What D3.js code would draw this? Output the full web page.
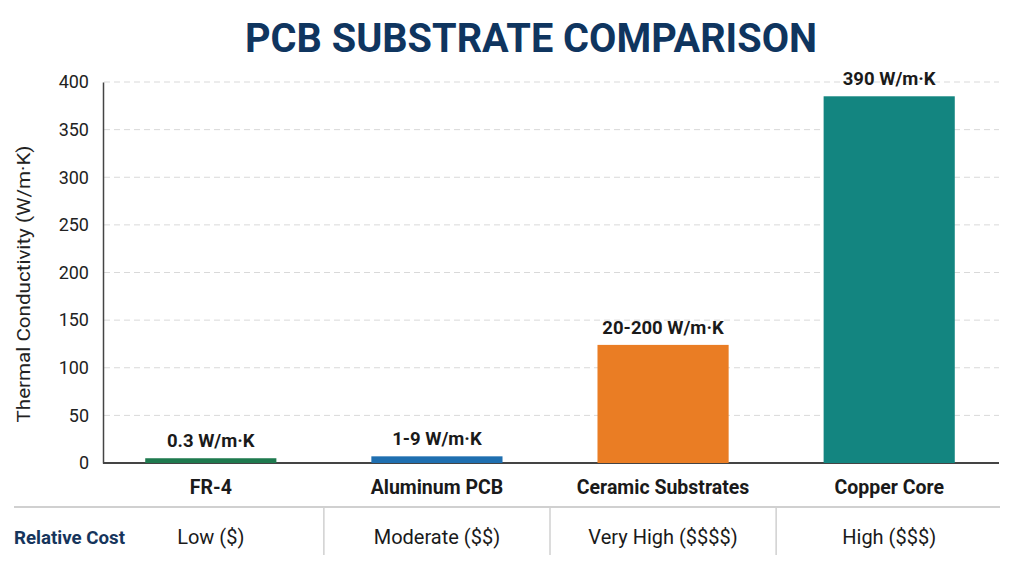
<!DOCTYPE html>
<html><head><meta charset="utf-8">
<script src="https://cdn.jsdelivr.net/npm/d3@7"></script>
<style>body{margin:0;background:#fff}svg{display:block}</style>
</head><body>
<svg id="c" width="1024" height="576"></svg>
<script>
const categories = ["FR-4", "Aluminum PCB", "Ceramic Substrates", "Copper Core"];
const values = [5, 7, 124, 385];
const valueLabels = ["0.3 W/m·K", "1-9 W/m·K", "20-200 W/m·K", "390 W/m·K"];
const colors = ["#1f7a4f", "#1f6fb0", "#ea7d24", "#138580"];
const costs = ["Low ($)", "Moderate ($$)", "Very High ($$$$)", "High ($$$)"];
const yTicks = [0, 50, 100, 150, 200, 250, 300, 350, 400];

const svg = d3.select("#c");
const x = d3.scaleBand().domain(categories).range([100, 1000]).paddingInner(0.42).paddingOuter(0.2);
const y = d3.scaleLinear().domain([0, 400]).range([463, 82]);
const font = "Roboto, 'Liberation Sans', sans-serif";

// title
svg.append("text").attr("x", 531).attr("y", 52).attr("text-anchor", "middle")
  .attr("font-family", font).attr("font-weight", 700).attr("font-size", 41)
  .attr("fill", "#0f355f").attr("textLength", 572).attr("lengthAdjust", "spacingAndGlyphs")
  .text("PCB SUBSTRATE COMPARISON");

// gridlines
svg.append("g").selectAll("line").data(yTicks.filter(d => d > 0)).join("line")
  .attr("x1", 104).attr("x2", 999).attr("y1", d => y(d)).attr("y2", d => y(d))
  .attr("stroke", "#d9d9d9").attr("stroke-width", 1).attr("stroke-dasharray", "6,4");

// y axis
const yAxis = svg.append("g").attr("transform", "translate(103,0)")
  .call(d3.axisLeft(y).tickValues(yTicks).tickSize(0).tickPadding(14));
yAxis.select(".domain").attr("stroke", "#444").attr("stroke-width", 1.5);
yAxis.selectAll("text").attr("font-family", font).attr("font-size", 18).attr("fill", "#222");

// x axis line
svg.append("line").attr("x1", 103).attr("x2", 999).attr("y1", y(0)).attr("y2", y(0))
  .attr("stroke", "#444").attr("stroke-width", 2);

// y label
svg.append("text").attr("transform", "translate(30,284) rotate(-90)").attr("text-anchor", "middle")
  .attr("font-family", font).attr("font-size", 19).attr("fill", "#222")
  .attr("textLength", 277).attr("lengthAdjust", "spacingAndGlyphs")
  .text("Thermal Conductivity (W/m·K)");

// bars
svg.append("g").selectAll("rect").data(categories).join("rect")
  .attr("x", d => x(d)).attr("width", x.bandwidth())
  .attr("y", (d, i) => y(values[i])).attr("height", (d, i) => y(0) - y(values[i]))
  .attr("fill", (d, i) => colors[i]);

// value labels
svg.append("g").selectAll("text").data(categories).join("text")
  .attr("x", d => x(d) + x.bandwidth() / 2).attr("y", (d, i) => y(values[i]) - 11)
  .attr("text-anchor", "middle").attr("font-family", font).attr("font-weight", 700)
  .attr("font-size", 18.5).attr("fill", "#1a1a1a").text((d, i) => valueLabels[i]);

// category labels
svg.append("g").selectAll("text").data(categories).join("text")
  .attr("x", d => x(d) + x.bandwidth() / 2).attr("y", 494)
  .attr("text-anchor", "middle").attr("font-family", font).attr("font-weight", 700)
  .attr("font-size", 19.5).attr("fill", "#1a1a1a").text(d => d);

// table
svg.append("line").attr("x1", 14).attr("x2", 1000).attr("y1", 507).attr("y2", 507)
  .attr("stroke", "#d0d0d0").attr("stroke-width", 2);
const seps = categories.slice(1).map((d, i) => (x(categories[i]) + x.bandwidth() + x(d)) / 2);
svg.append("g").selectAll("line").data(seps).join("line")
  .attr("x1", d => d).attr("x2", d => d).attr("y1", 507).attr("y2", 555)
  .attr("stroke", "#d0d0d0").attr("stroke-width", 1.5);
svg.append("text").attr("x", 14).attr("y", 544).attr("font-family", font).attr("font-weight", 700)
  .attr("font-size", 19).attr("fill", "#16355c").attr("textLength", 111).attr("lengthAdjust", "spacingAndGlyphs")
  .text("Relative Cost");
svg.append("g").selectAll("text").data(categories).join("text")
  .attr("x", d => x(d) + x.bandwidth() / 2).attr("y", 544)
  .attr("text-anchor", "middle").attr("font-family", font)
  .attr("font-size", 20).attr("fill", "#1a1a1a").text((d, i) => costs[i]);
</script>
</body></html>
